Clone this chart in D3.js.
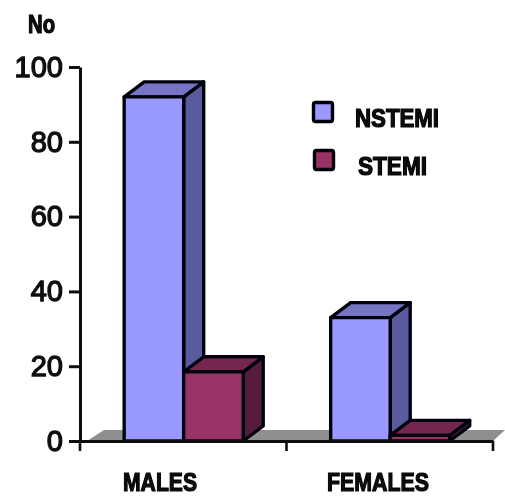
<!DOCTYPE html>
<html>
<head>
<meta charset="utf-8">
<script src="https://cdnjs.cloudflare.com/ajax/libs/d3/7.8.5/d3.min.js"></script>
<style>
  html, body { margin: 0; padding: 0; background: #fff; }
  svg { display: block; }
  text { font-family: "Liberation Sans", Arial, sans-serif; fill: #111; }
</style>
</head>
<body>
<div id="chart"></div>
<script>
// values
const categories = ["MALES", "FEMALES"];
const seriesNames = ["NSTEMI", "STEMI"];
const nstemi = [92, 33];
const stemi = [18.5, 1.5];
const yTicks = [0, 20, 40, 60, 80, 100];

const W = 505, H = 496;
const x0 = 80, x1 = 493, yTop = 67, yBottom = 441;
const depthX = 20, depthY = 15;

const faces = {
  NSTEMI: { front: "#9999ff", side: "#5a5a9e", top: "#7474c4" },
  STEMI: { front: "#993366", side: "#561d3e", top: "#752750" }
};

const svg = d3.select("#chart").append("svg")
    .attr("width", W)
    .attr("height", H);

// the original is a soft, rescaled image
svg.append("filter")
    .attr("id", "soft")
  .append("feGaussianBlur")
    .attr("stdDeviation", 0.45);
const root = svg.append("g").attr("filter", "url(#soft)");

const x = d3.scaleBand().domain(categories).range([x0, x1]);
const xSub = d3.scaleBand().domain(seriesNames).range([0, x.bandwidth()])
    .paddingInner(0).paddingOuter(0.735).align(0.505);
const y = d3.scaleLinear().domain([0, 100]).range([yBottom, yTop]);

const poly = pts => "M" + pts.map(p => p.join(",")).join("L") + "Z";

// grey floor
root.append("path")
    .attr("d", poly([[x0 + 7, yBottom], [x0 + 24, y(0) - 11], [W, y(0) - 11], [x1, yBottom]]))
    .attr("fill", "#8f8f8f")
    .attr("stroke", "none");

// flat list of bars, drawn left to right so the neighbours overlap properly
const bars = [];
categories.forEach((c, i) => {
  bars.push({ cat: c, key: "NSTEMI", value: nstemi[i] });
  bars.push({ cat: c, key: "STEMI", value: stemi[i] });
});

const bar = root.append("g").selectAll("g")
  .data(bars)
  .join("g")
    .attr("stroke", "#05050f")
    .attr("stroke-width", 3.4)
    .attr("stroke-linejoin", "round");

bar.append("path")
    .attr("fill", d => faces[d.key].side)
    .attr("d", d => {
      const r = x(d.cat) + xSub(d.key) + xSub.bandwidth();
      return poly([[r, y(d.value)], [r + depthX, y(d.value) - depthY], [r + depthX, y(0) - depthY], [r, y(0)]]);
    });
bar.append("path")
    .attr("fill", d => faces[d.key].top)
    .attr("d", d => {
      const l = x(d.cat) + xSub(d.key), r = l + xSub.bandwidth();
      return poly([[l, y(d.value)], [l + depthX, y(d.value) - depthY], [r + depthX, y(d.value) - depthY], [r, y(d.value)]]);
    });
bar.append("rect")
    .attr("x", d => x(d.cat) + xSub(d.key))
    .attr("y", d => y(d.value))
    .attr("width", xSub.bandwidth())
    .attr("height", d => y(0) - y(d.value))
    .attr("fill", d => faces[d.key].front);

// Y axis
const yAxis = root.append("g")
    .attr("transform", `translate(${x0},0)`)
    .call(d3.axisLeft(y).tickValues(yTicks).tickSize(11).tickPadding(6).tickSizeOuter(0));
yAxis.select(".domain").attr("stroke", "#111").attr("stroke-width", 3);
yAxis.selectAll(".tick line").attr("stroke", "#111").attr("stroke-width", 3);
yAxis.selectAll(".tick text")
    .attr("font-size", 29)
    .attr("font-weight", "normal")
    .attr("stroke", "#111")
    .attr("stroke-width", 1.3)
    .attr("fill", "#111");

// X axis
const xAxis = root.append("g")
    .attr("transform", `translate(0,${yBottom})`)
    .call(d3.axisBottom(x).tickValues([]).tickSizeOuter(0));
xAxis.select(".domain").attr("stroke", "#111").attr("stroke-width", 3);
xAxis.selectAll(".xtick")
  .data([x0, x("MALES") + x.bandwidth(), x1])
  .join("line")
    .attr("class", "xtick")
    .attr("x1", d => d).attr("x2", d => d)
    .attr("y1", 0).attr("y2", 10)
    .attr("stroke", "#111")
    .attr("stroke-width", 2.6);

// condensed bold labels, squeezed with textLength like the original lettering
const label = (txt, xPos, yPos, len, size) => root.append("text")
    .attr("x", xPos)
    .attr("y", yPos)
    .attr("textLength", len)
    .attr("lengthAdjust", "spacingAndGlyphs")
    .attr("font-size", size)
    .attr("font-weight", "bold")
    .attr("stroke", "#000")
    .attr("stroke-width", 1.2)
    .text(txt);

label("No", 28, 33, 27, 25);
label(categories[0], 123, 491, 74, 26);
label(categories[1], 327, 491, 102, 26);

// legend
const legendY = d3.scalePoint().domain(seriesNames).range([112, 160]);
const legendTextX = { NSTEMI: 355, STEMI: 358 };
const legendLen = { NSTEMI: 84, STEMI: 69 };
root.append("g").selectAll("rect")
  .data(seriesNames)
  .join("rect")
    .attr("x", d => d === "NSTEMI" ? 313.5 : 314.5)
    .attr("y", d => legendY(d) - 9.5)
    .attr("width", 19)
    .attr("height", 19)
    .attr("rx", 2)
    .attr("fill", d => faces[d].front)
    .attr("stroke", "#05050f")
    .attr("stroke-width", 3.4);
seriesNames.forEach(s => label(s, legendTextX[s], s === "STEMI" ? 175 : 127, legendLen[s], 25));
</script>
</body>
</html>
